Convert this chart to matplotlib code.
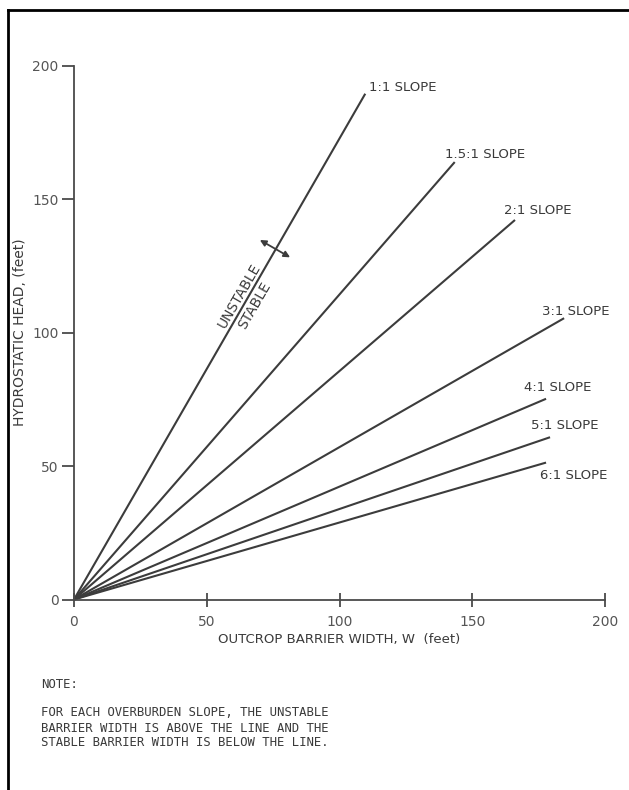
#!/usr/bin/env python
import numpy as np
import matplotlib
matplotlib.use('Agg')
import matplotlib.pyplot as plt
from matplotlib.lines import Line2D

plt.rcParams['font.family'] = ['DejaVu Sans']

# slope curves: straight lines from the origin to these end points
slope_names = ['1:1', '1.5:1', '2:1', '3:1', '4:1', '5:1', '6:1']
end_width = [109.7, 143.4, 166.1, 184.6, 177.8, 179.3, 177.8]
end_head = [189.5, 163.9, 142.2, 105.4, 75.2, 60.8, 51.3]

x_ticks = [0, 50, 100, 150, 200]
y_ticks = [0, 50, 100, 150, 200]

note_lines = ['FOR EACH OVERBURDEN SLOPE, THE UNSTABLE',
              'BARRIER WIDTH IS ABOVE THE LINE AND THE',
              'STABLE BARRIER WIDTH IS BELOW THE LINE.']

# where the slope labels sit (data coords)
label_pos = [(111.2, 192.0), (139.6, 166.6), (161.9, 145.7), (176.2, 107.9),
             (169.4, 79.5), (172.0, 65.2), (175.5, 46.4)]

line_color = '#3c3c3c'
text_color = '#3a3a3a'
W, H = 629, 790

fig = plt.figure(figsize=(W / 100, H / 100), dpi=100)
ax = fig.add_axes([74 / W, 1 - 599.5 / H, (605 - 74) / W, (599.5 - 65.7) / H])

for name, xe, ye in zip(slope_names, end_width, end_head):
    ax.plot([0, xe], [0, ye], color=line_color, lw=1.5, solid_capstyle='butt', clip_on=False)

for name, (lx, ly) in zip(slope_names, label_pos):
    ax.text(lx, ly, name + ' SLOPE', ha='left', va='center', fontsize=9.5,
            color=text_color, clip_on=False)

ax.set_xlim(0, 200)
ax.set_ylim(0, 200)
ax.set_xticks(x_ticks)
ax.set_yticks(y_ticks)
ax.spines['top'].set_visible(False)
ax.spines['right'].set_visible(False)
for s in ['left', 'bottom']:
    ax.spines[s].set_color('#4a4a4a')
    ax.spines[s].set_linewidth(1.3)
ax.tick_params(axis='y', direction='out', length=9, width=1.3, pad=2,
               colors='#4a4a4a', labelsize=10, labelcolor='#555555')
ax.tick_params(axis='x', direction='inout', length=10, width=1.3, pad=6,
               colors='#4a4a4a', labelsize=10, labelcolor='#555555')

ax.set_ylabel('HYDROSTATIC HEAD, (feet)', fontsize=10, color=text_color)
ax.yaxis.set_label_coords((27 - 74) / (605 - 74), 0.5)
ax.set_xlabel('OUTCROP BARRIER WIDTH, W  (feet)', fontsize=9.5, color=text_color, labelpad=3)

# rotation of the 1:1 line on screen
fig.canvas.draw()
p0 = ax.transData.transform((0, 0))
p1 = ax.transData.transform((end_width[0], end_head[0]))
angle = np.degrees(np.arctan2(p1[1] - p0[1], p1[0] - p0[0]))

ax.text(62.2, 113.8, 'UNSTABLE', rotation=angle, ha='center', va='center',
        fontsize=10, color=text_color, rotation_mode='anchor')
ax.text(68.1, 110.0, 'STABLE', rotation=angle, ha='center', va='center',
        fontsize=10, color=text_color, rotation_mode='anchor')
ax.annotate('', xy=(70.0, 134.7), xytext=(81.4, 128.2),
            arrowprops=dict(arrowstyle='<|-|>', color=line_color, lw=1.3,
                            mutation_scale=9, shrinkA=0, shrinkB=0))

# note below the chart
fig.text(41 / W, 1 - 684 / H, 'NOTE:', ha='left', va='center', fontsize=8.8,
         color=text_color, family=['DejaVu Sans Mono'])
for i, line in enumerate(note_lines):
    fig.text(41 / W, 1 - (713 + 15 * i) / H, line, ha='left', va='center', fontsize=8.8,
             color=text_color, family=['DejaVu Sans Mono'])

# scan border on top and left
fig.add_artist(Line2D([8 / W, 1], [1 - 10 / H, 1 - 10 / H], color='black', lw=2, transform=fig.transFigure))
fig.add_artist(Line2D([8 / W, 8 / W], [0, 1 - 10 / H], color='black', lw=2, transform=fig.transFigure))

plt.savefig('out.png', dpi=100, facecolor='white')
